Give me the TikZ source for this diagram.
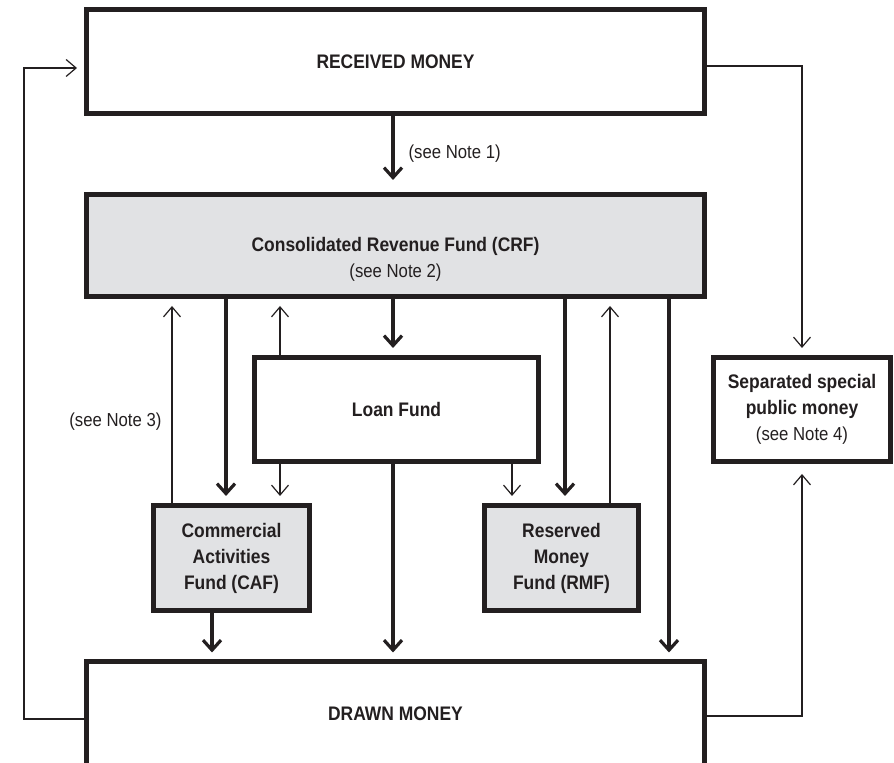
\documentclass[tikz,border=0pt]{standalone}
\usepackage{fontspec}
\setmainfont{Liberation Sans}[FakeStretch=0.89]
\usetikzlibrary{arrows.meta, calc}
\definecolor{inkgray}{RGB}{35,31,32}
\definecolor{fundgray}{RGB}{225,226,228}
\tikzset{
    my-title/.style={
        font=\fontsize{9.8}{13}\selectfont\bfseries, text=inkgray, align=center, inner sep=0pt
    },
    my-note/.style={
        font=\fontsize{9.4}{13}\selectfont, text=inkgray, inner sep=0pt
    },
    my-box/.style={
        my-title, draw=inkgray, line width=2.5pt, fill=white
    },
    my-fund-box/.style={
        my-box, fill=fundgray
    },
    my-thick-arrow/.style={
        draw=inkgray, line width=1.6pt, -{Straight Barb[length=5pt, width=9pt]}, shorten >=3.5pt
    },
    my-thin-arrow/.style={
        draw=inkgray, line width=0.6pt, -{Straight Barb[length=5pt, width=8.5pt]}, shorten >=3.5pt
    },
}
\newcommand{\notefont}{\fontsize{9.4}{13}\selectfont\mdseries}

\begin{document}
\begin{tikzpicture}[x=0.5pt, y=-0.5pt]

        % BOUNDING BOX
        \useasboundingbox (0,0) rectangle (894,763);

        % BOXES
        \node[my-box,      minimum width=309pt,  minimum height=52pt]   (RECEIVED)  at (395.5,61.5)  {RECEIVED MONEY};
        \node[my-fund-box, minimum width=309pt,  minimum height=51pt]   (CRF)       at (395.5,245.5) {};
        \node[my-box,      minimum width=142pt,  minimum height=52pt]   (LOAN)      at (396.5,409.5) {Loan Fund};
        \node[my-box,      minimum width=88.5pt, minimum height=52pt]   (SEPARATED) at (802,409.5)   {Separated special\\public money\\{\notefont (see Note 4)}};
        \node[my-fund-box, minimum width=78pt,   minimum height=52.5pt] (CAF)       at (231.5,558)   {Commercial\\Activities\\Fund (CAF)};
        \node[my-fund-box, minimum width=77pt,   minimum height=52.5pt] (RMF)       at (561.5,558)   {Reserved\\Money\\Fund (RMF)};
        \node[my-box,      minimum width=309pt,  minimum height=52pt]   (DRAWN)     at (395.5,714)   {DRAWN MONEY};
        \node[my-title] (CRFTEXT) at ($(CRF.center) + (0,14)$) {Consolidated Revenue Fund (CRF)\\{\notefont (see Note 2)}};

        % COLUMNS FOR THE VERTICAL CONNECTORS
        \coordinate (LEFTRAIL)  at (24,0);
        \coordinate (COLNOTE3)  at (172,0);
        \coordinate (COLCAFOUT) at (212,0);
        \coordinate (COLCAFIN)  at (226,0);
        \coordinate (COLLOANL)  at (280,0);
        \coordinate (COLMAIN)   at (393,0);
        \coordinate (COLLOANR)  at (512,0);
        \coordinate (COLRMFIN)  at (565,0);
        \coordinate (COLRMFOUT) at (610,0);
        \coordinate (COLCRFOUT) at (669,0);

        % MAIN LINE
        \draw[my-thick-arrow, shorten >=6pt] (RECEIVED.south -| COLMAIN) -- (CRF.north -| COLMAIN)
            node[my-note, midway, right=7pt] (NOTE1) {(see Note 1)};
        \draw[my-thick-arrow] (CRF.south -| COLMAIN)  -- (LOAN.north -| COLMAIN);
        \draw[my-thick-arrow] (LOAN.south -| COLMAIN) -- (DRAWN.north -| COLMAIN);

        % COMMERCIAL ACTIVITIES FUND
        \draw[my-thick-arrow] (CRF.south -| COLCAFIN)  -- (CAF.north -| COLCAFIN);
        \draw[my-thin-arrow]  (CAF.north -| COLNOTE3)  -- (CRF.south -| COLNOTE3)
            node[my-note, pos=.4, left=5pt] (NOTE3) {(see Note 3)};
        \draw[my-thick-arrow] (CAF.south -| COLCAFOUT) -- (DRAWN.north -| COLCAFOUT);

        % LOAN FUND
        \draw[my-thin-arrow] (LOAN.north -| COLLOANL) -- (CRF.south -| COLLOANL);
        \draw[my-thin-arrow] (LOAN.south -| COLLOANL) -- (CAF.north -| COLLOANL);
        \draw[my-thin-arrow] (LOAN.south -| COLLOANR) -- (RMF.north -| COLLOANR);

        % RESERVED MONEY FUND
        \draw[my-thick-arrow] (CRF.south -| COLRMFIN)  -- (RMF.north -| COLRMFIN);
        \draw[my-thin-arrow]  (RMF.north -| COLRMFOUT) -- (CRF.south -| COLRMFOUT);
        \draw[my-thick-arrow] (CRF.south -| COLCRFOUT) -- (DRAWN.north -| COLCRFOUT);

        % OUTER LOOPS
        \coordinate (RECOUT)   at ($(RECEIVED.east) + (0,4.5)$);
        \coordinate (RECIN)    at ($(RECEIVED.west) + (0,6.5)$);
        \coordinate (DRAWOUTR) at ($(DRAWN.east) + (0,2)$);
        \coordinate (DRAWOUTL) at ($(DRAWN.west) + (0,5)$);
        \draw[my-thin-arrow] (RECOUT) -| (SEPARATED.north);
        \draw[my-thin-arrow, shorten >=5pt] (DRAWOUTR) -| (SEPARATED.south);
        \draw[my-thin-arrow] (DRAWOUTL) -- (DRAWOUTL -| LEFTRAIL) -- (RECIN -| LEFTRAIL) -- (RECIN);

    \end{tikzpicture}
\end{document}
